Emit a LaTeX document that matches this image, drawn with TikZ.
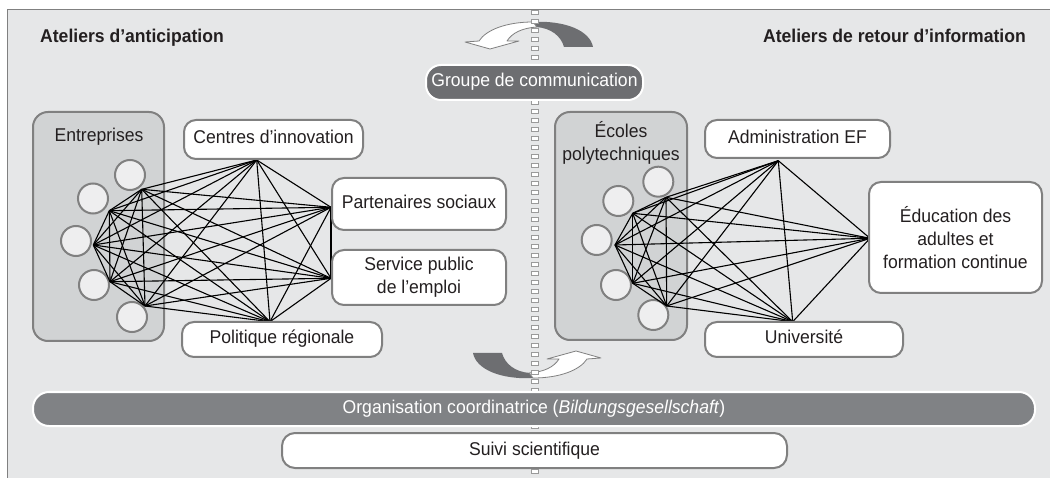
\documentclass[tikz,border=0pt]{standalone}
\usepackage{fontspec}
\setmainfont{Liberation Sans}[FakeStretch=0.95]
\definecolor{bg}{HTML}{E6E7E8}
\definecolor{grp}{HTML}{D1D3D4}
\definecolor{circ}{HTML}{EEEEEF}
\definecolor{bord}{HTML}{808080}
\definecolor{darkfill}{HTML}{6D6E71}
\definecolor{barfill}{HTML}{808285}
\definecolor{txt}{HTML}{231F20}
\newcommand\twistarrow{%
  \fill[darkfill] (531,22) .. controls (566,20) and (590,31) .. (593,47)
     -- (564,47) .. controls (561,36) and (551,28) .. (536,27) -- cycle;
  \filldraw[fill=white, draw=bord, line width=0.8pt, line join=round]
     (533,22) .. controls (506,22) and (486,30) .. (479,41)
     -- (465,42) -- (490,49) -- (519,41) -- (507,41)
     .. controls (512,33) and (522,28) .. (537,27) -- cycle;
}
\begin{document}
\begin{tikzpicture}[x=1pt,y=-1pt,
  font=\fontsize{18.5}{23}\selectfont, text=txt,
  wbox/.style={draw=bord, line width=2pt, fill=white, rounded corners=12pt,
    inner sep=0pt, align=center},
  oneline/.style={text height=13pt, text depth=4pt},
  dbox/.style={draw=white, line width=2pt, fill=darkfill, rounded corners=15pt,
    inner sep=0pt, text=white, oneline},
  gbox/.style={draw=bord, line width=2pt, fill=grp, rounded corners=15pt, inner sep=0pt},
  cnode/.style={circle, draw=bord, line width=2pt, fill=circ, minimum size=30pt, inner sep=0pt},
  lbl/.style={inner sep=0pt, align=center},
  ttl/.style={inner sep=0pt, font=\fontsize{18.5}{23}\selectfont\bfseries},
  net/.style={black, line width=1.1pt},
]
\useasboundingbox (0,0) rectangle (1050,478);
\fill[white] (0,0) rectangle (1050,478);
\filldraw[fill=bg, draw=bord, line width=1pt] (7,9.5) rectangle (1070,500);

% curved arrows
\twistarrow
\begin{scope}[rotate around={180:(533,200)}]
  \twistarrow
\end{scope}

% dashed separator
\coordinate (dtop) at (535,10);
\coordinate (dbot) at (535,478);
\draw[bord!80, line width=8pt, dash pattern=on 5pt off 4pt] (dtop) -- (dbot);
\draw[white, line width=6pt, dash pattern=on 3pt off 6pt, dash phase=8pt] (dtop) -- (dbot);

% titles
\node[ttl, anchor=base west] (tleft) at (40,42.7) {Ateliers d’anticipation};
\node[ttl, anchor=base east] (tright) at (1026,42.7) {Ateliers de retour d’information};

% group boxes
\node[gbox, minimum width=131pt, minimum height=229pt] (entr) at (98.5,226.5) {};
\node[lbl, oneline] (entrlbl) at (99,137) {Entreprises};
\node[gbox, minimum width=132pt, minimum height=228pt] (ecol) at (621,226) {};
\node[lbl] (ecollbl) at (621,142.5) {Écoles\\polytechniques};

% circles
\node[cnode] (lc1) at (130,175) {};
\node[cnode] (lc2) at (93,198.5) {};
\node[cnode] (lc3) at (76,241) {};
\node[cnode] (lc4) at (94,285) {};
\node[cnode] (lc5) at (132,317) {};
\node[cnode] (rc1) at (658.3,181.7) {};
\node[cnode] (rc2) at (618.3,201) {};
\node[cnode] (rc3) at (596.7,240) {};
\node[cnode] (rc4) at (616,285) {};
\node[cnode] (rc5) at (653.3,315) {};

% network points
\coordinate (LA) at (141.7,189.3);
\coordinate (LB) at (109.3,210.7);
\coordinate (LC) at (93.3,245);
\coordinate (LD) at (110,281.7);
\coordinate (LE) at (145,306);
\coordinate (LF) at (256.7,160);
\coordinate (LG) at (331,207.3);
\coordinate (LH) at (331,278.3);
\coordinate (LI) at (270,321.7);
\coordinate (RA) at (666,197.3);
\coordinate (RB) at (632.7,213.3);
\coordinate (RC) at (615,245);
\coordinate (RD) at (632.7,283.3);
\coordinate (RE) at (666.7,306);
\coordinate (RF) at (778.3,160.7);
\coordinate (RG) at (870,238.3);
\coordinate (RI) at (792.7,321.7);

\foreach \u [count=\i] in {LA,LB,LC,LD,LE,LF,LG,LH,LI}{
  \foreach \v [count=\j] in {LA,LB,LC,LD,LE,LF,LG,LH,LI}{
    \ifnum\j>\i \draw[net] (\u) -- (\v); \fi
  }
}
\foreach \u [count=\i] in {RA,RB,RC,RD,RE,RF,RG,RI}{
  \foreach \v [count=\j] in {RA,RB,RC,RD,RE,RF,RG,RI}{
    \ifnum\j>\i \draw[net] (\u) -- (\v); \fi
  }
}

% white boxes
\node[wbox, oneline, minimum width=179pt, minimum height=39pt] (centres) at (273.5,139.5) {Centres d’innovation};
\node[wbox, oneline, minimum width=174pt, minimum height=52pt] (parten) at (419,204) {Partenaires sociaux};
\node[wbox, minimum width=174pt, minimum height=55pt] (service) at (419,277.5) {Service public\\de l’emploi};
\node[wbox, oneline, minimum width=200pt, minimum height=35pt] (polit) at (282,339.5) {Politique régionale};
\node[wbox, oneline, minimum width=185pt, minimum height=38pt] (admin) at (797.5,139) {Administration EF};
\node[wbox, minimum width=173pt, minimum height=111pt] (educ) at (955.5,237.5) {Éducation des\\adultes et\\formation continue};
\node[wbox, oneline, minimum width=198pt, minimum height=35pt] (univ) at (804,339.5) {Université};

% dark bars
\node[dbox, minimum width=217pt, minimum height=35pt] (groupe) at (534.5,82.5) {Groupe de communication};
\node[dbox, fill=barfill, minimum width=1002pt, minimum height=34pt, rounded corners=16pt] (orga) at (534,409) {Organisation coordinatrice (\textit{Bildungsgesellschaft})};
\node[wbox, oneline, minimum width=505pt, minimum height=35pt, rounded corners=13pt] (suivi) at (534.5,450.5) {Suivi scientifique};
\end{tikzpicture}
\end{document}
